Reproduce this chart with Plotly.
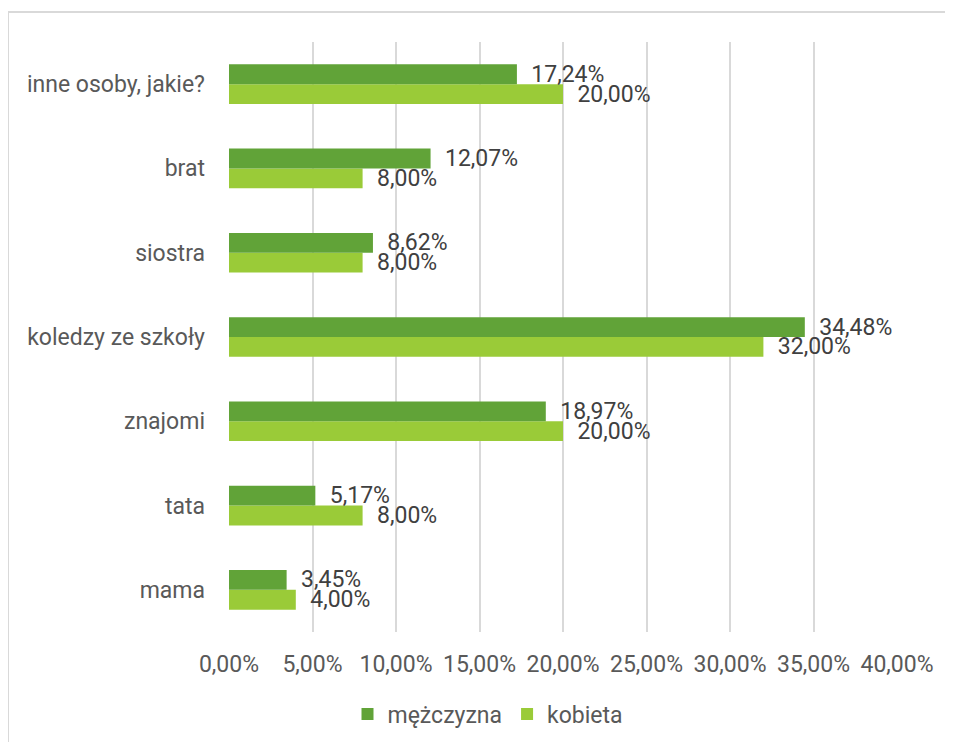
import plotly.graph_objects as go

categories = ["mama", "tata", "znajomi", "koledzy ze szkoły", "siostra", "brat", "inne osoby, jakie?"]
mezczyzna = [3.45, 5.17, 18.97, 34.48, 8.62, 12.07, 17.24]
kobieta = [4.00, 8.00, 20.00, 32.00, 8.00, 8.00, 20.00]
tick_vals = [0, 5, 10, 15, 20, 25, 30, 35, 40]
tick_labels = ["0,00%", "5,00%", "10,00%", "15,00%", "20,00%", "25,00%", "30,00%", "35,00%", "40,00%"]

def fmt(v):
    return "\u00a0\u00a0" + f"{v:.2f}".replace(".", ",") + "%"

FONT = "Roboto"
FS = 23
OFF = 8  # page body margin
W, H = 953 - OFF, 742 - OFF
L, T = 229 - OFF, 42 - OFF
R = 953 - 897
B = 742 - 632
pw, ph = W - L - R, H - T - B

fig = go.Figure()
fig.add_trace(go.Bar(
    y=categories, x=kobieta, orientation="h", name="kobieta",
    marker=dict(color="#9ACB38", line=dict(width=0)),
    text=[fmt(v) for v in kobieta], textposition="outside", constraintext="none",
    textfont=dict(family=FONT, size=FS, color="#404040"),
    cliponaxis=False, legendrank=2,
))
fig.add_trace(go.Bar(
    y=categories, x=mezczyzna, orientation="h", name="mężczyzna",
    marker=dict(color="#61A338", line=dict(width=0)),
    text=[fmt(v) for v in mezczyzna], textposition="outside", constraintext="none",
    textfont=dict(family=FONT, size=FS, color="#404040"),
    cliponaxis=False, legendrank=1,
))

def px_x(p):
    return (p - OFF - L) / pw

def px_y(p):
    return 1 - (p - OFF - T) / ph

fig.update_layout(
    width=W, height=H,
    margin=dict(l=L, r=R, t=T, b=B, autoexpand=False),
    paper_bgcolor="white", plot_bgcolor="white",
    barmode="group", bargap=0.53, bargroupgap=0,
    font=dict(family=FONT, size=FS, color="#595959"),
    showlegend=True,
    legend=dict(orientation="h", x=px_x(488), xanchor="center",
                yref="container", y=1 - (714 - OFF) / H, yanchor="middle",
                font=dict(family=FONT, size=FS, color="#595959"), traceorder="normal"),
    xaxis=dict(range=[0, 40], tickvals=tick_vals, ticktext=tick_labels,
               showgrid=True, gridcolor="#D9D9D9", gridwidth=1.5, zeroline=False,
               showline=False, ticks="", ticklabelstandoff=16, fixedrange=True),
    yaxis=dict(showgrid=False, zeroline=False, showline=False, ticks="",
               ticklabelstandoff=23, fixedrange=True),
    shapes=[dict(type="rect", xref="paper", yref="paper",
                 x0=px_x(8), x1=px_x(1200), y0=px_y(900), y1=px_y(12),
                 line=dict(color="#D9D9D9", width=2), fillcolor="rgba(0,0,0,0)", layer="below")],
)

fig.write_html("out.html")
